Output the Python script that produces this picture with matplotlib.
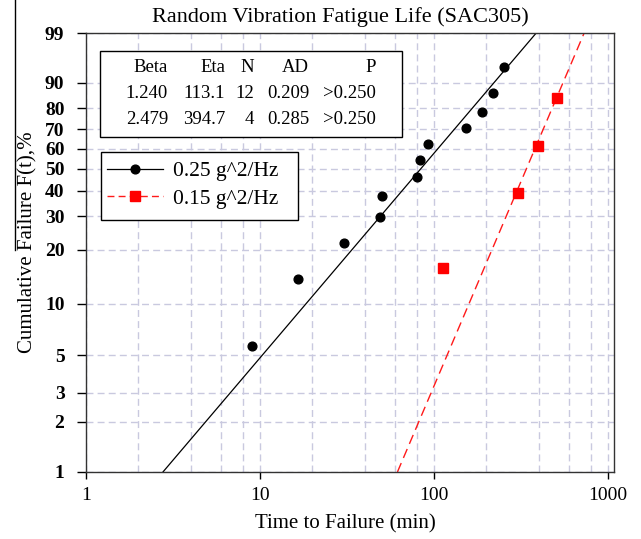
import numpy as np
import matplotlib
matplotlib.use('Agg')
import matplotlib.pyplot as plt
from matplotlib.lines import Line2D
from matplotlib.patches import Rectangle
from matplotlib.ticker import FixedLocator, NullFormatter, LogLocator

plt.rcParams['font.family'] = ['Liberation Serif', 'DejaVu Serif']

# data
time_025 = [9.0, 16.6, 30.4, 48.9, 50.1, 80.0, 83.6, 93.1, 152.4, 189.8, 217.4, 254.6]
fail_025 = [5.7, 13.9, 21.9, 29.9, 37.9, 45.9, 54.3, 62.3, 70.5, 78.3, 86.3, 94.3]
time_015 = [113.2, 306, 398, 511]
fail_015 = [16.0, 38.9, 61.5, 84.5]

# fitted weibull parameters (table)
beta = [1.240, 2.479]
eta = [113.1, 394.7]
n_pts = [12, 4]
ad = [0.209, 0.285]
p_val = ['>0.250', '>0.250']
labels = ['0.25 g^2/Hz', '0.15 g^2/Hz']

y_ticks = [1, 2, 3, 5, 10, 20, 30, 40, 50, 60, 70, 80, 90, 99]
x_ticks = [1, 10, 100, 1000]

W, H = 641, 539


def fwd(p):
    p = np.asarray(p, dtype=float)
    with np.errstate(all='ignore'):
        return np.log(-np.log(1 - p / 100.0))


def inv(z):
    z = np.asarray(z, dtype=float)
    with np.errstate(all='ignore'):
        return 100.0 * (1 - np.exp(-np.exp(z)))


fig = plt.figure(figsize=(W / 100, H / 100), dpi=100)
ax = fig.add_axes([86 / W, 1 - 472 / H, (614 - 86) / W, (472 - 33) / H])
ax.set_xscale('log')
ax.set_yscale('function', functions=(fwd, inv))
ax.set_xlim(1, 1085)
ax.set_ylim(1, 99)

grid_col = '#c9c9df'
ax.xaxis.set_major_locator(FixedLocator(x_ticks))
ax.xaxis.set_minor_locator(LogLocator(base=10, subs=(2, 4, 6, 8)))
ax.xaxis.set_minor_formatter(NullFormatter())
ax.set_xticklabels([str(v) for v in x_ticks])
ax.yaxis.set_major_locator(FixedLocator(y_ticks))
ax.yaxis.set_minor_locator(FixedLocator([]))
ax.set_yticklabels([str(v) for v in y_ticks], fontweight='bold')
ax.grid(True, which='both', color=grid_col, linestyle=(0, (5, 3)), linewidth=1.0)
ax.set_axisbelow(True)
ax.tick_params(axis='both', which='major', direction='out', width=1, labelsize=14)
ax.tick_params(axis='x', which='major', length=5, pad=6)
ax.tick_params(axis='y', which='major', length=6.5, pad=9)
ax.tick_params(axis='x', which='minor', length=0)
for s in ax.spines.values():
    s.set_linewidth(1.0)
    s.set_color('#333333')

# fitted lines between F=1% and F=99%
ends = np.array([1.0, 99.0])
styles = [dict(color='black', linestyle='-', linewidth=0.9),
          dict(color='#ff1a1a', linestyle=(0, (7, 4)), linewidth=1.0)]
for b, e, st in zip(beta, eta, styles):
    t_line = e * (-np.log(1 - ends / 100.0)) ** (1.0 / b)
    ax.plot(t_line, ends, **st, zorder=2)

ax.plot(time_025, fail_025, 'o', color='black', markersize=6.3, zorder=3)
ax.plot(time_015, fail_015, 's', color='#ff0000', markersize=6.6, zorder=3)

# legend with a hand-drawn frame
fig.patches.append(Rectangle((100.7 / W, 1 - 220 / H), (298.3 - 100.7) / W, (220 - 152.3) / H,
                             transform=fig.transFigure, facecolor='white',
                             edgecolor='black', linewidth=1.0, zorder=5))
h1 = Line2D([], [], color='black', linestyle='-', linewidth=0.9,
            marker='o', markersize=6.3)
h2 = Line2D([], [], color='#ff1a1a', linestyle=(0, (5, 3)), linewidth=1.0,
            marker='s', markersize=6.6, markerfacecolor='#ff0000', markeredgecolor='#ff0000')
leg = fig.legend([h1, h2], labels, loc='upper left',
                 bbox_to_anchor=(106.7 / W, 1 - 161.0 / H), borderaxespad=0,
                 fontsize=15.5, frameon=False,
                 handlelength=2.6, handletextpad=0.5, labelspacing=0.36,
                 borderpad=0)
leg.set_zorder(6)

# parameter table
fig.patches.append(Rectangle((100 / W, 1 - 137 / H), (402 - 100) / W, (137 - 51) / H,
                             transform=fig.transFigure, facecolor='white',
                             edgecolor='black', linewidth=1.0, zorder=5))
col_right = [168, 225, 254, 309, 376]
row_y = [67.3, 93.3, 119.3]
header = ['Beta', 'Eta', 'N', 'AD', 'P']
rows = [header]
for i in range(2):
    rows.append(['%.3f' % beta[i], '%.1f' % eta[i], str(n_pts[i]), '%.3f' % ad[i], p_val[i]])
for r, yy in zip(rows, row_y):
    for txt, xr in zip(r, col_right):
        fig.text(xr / W, 1 - yy / H, txt, ha='right', va='center', fontsize=13.5, zorder=6)

fig.text(340 / W, 1 - 17 / H, 'Random Vibration Fatigue Life (SAC305)',
         ha='center', va='center', fontsize=16)
fig.text(345 / W, 1 - 524 / H, 'Time to Failure (min)', ha='center', va='center', fontsize=15)
fig.text(28 / W, 1 - 242 / H, 'Cumulative Failure F(t),%', ha='center', va='center',
         rotation=90, fontsize=15)

# thin crop border visible at the left of the source image
fig.add_artist(Line2D([15 / W, 15 / W], [1.0, 1 - 250 / H], color='black', linewidth=1.0,
                      transform=fig.transFigure))

fig.savefig('out.png', dpi=100)
